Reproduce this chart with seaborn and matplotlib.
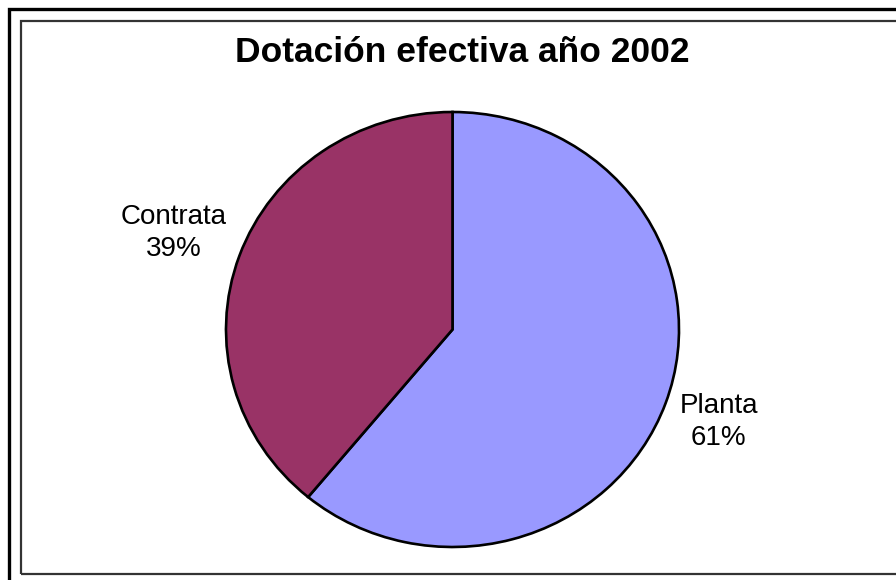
import matplotlib
matplotlib.use("Agg")
import matplotlib.pyplot as plt
from matplotlib.patches import Rectangle
import numpy as np
import seaborn as sns

# ---- data ----
categories = ["Planta", "Contrata"]
values = [61, 39]
colors = ["#9999FF", "#993366"]
title = "Dotación efectiva año 2002"

sns.set_theme(style="white")
plt.rcParams["font.family"] = ["Liberation Sans", "DejaVu Sans"]

W, H = 896, 580
fig = plt.figure(figsize=(W / 100, H / 100), dpi=100)
fig.patch.set_facecolor("white")

def fx(px):
    return px / W

def fy(py):
    return 1 - py / H

# outer border (black) and inner chart-area border (dark grey)
fig.patches.append(Rectangle((fx(9), fy(H + 20)), fx(W + 20) - fx(9), fy(9) - fy(H + 20),
                             transform=fig.transFigure, fill=False, edgecolor="black",
                             linewidth=2.4, zorder=0))
fig.patches.append(Rectangle((fx(21), fy(573.5)), fx(W + 20) - fx(21), fy(21) - fy(573.5),
                             transform=fig.transFigure, fill=False, edgecolor="#333333",
                             linewidth=1.6, zorder=0))

# pie axes: ellipse box
cx, cy, rx, ry = 452.5, 329.5, 226.5, 217.5
ax = fig.add_axes([fx(cx - rx), fy(cy + ry), 2 * rx / W, 2 * ry / H])
wedges, _ = ax.pie(values, colors=colors, startangle=90, counterclock=False,
                   wedgeprops=dict(edgecolor="black", linewidth=1.9),
                   radius=1, frame=False)
ax.set_aspect("auto")
ax.set_xlim(-1, 1)
ax.set_ylim(-1, 1)
ax.axis("off")

dists = [1.25, 1.31]
total = sum(values)
for w, name, v, d in zip(wedges, categories, values, dists):
    mid = np.deg2rad((w.theta1 + w.theta2) / 2)
    ax.text(d * np.cos(mid), d * np.sin(mid), f"{name}\n{round(100 * v / total)}%",
            ha="center", va="center", fontsize=20, linespacing=1.3,
            color="black", clip_on=False)

fig.text(fx(462), fy(53), title, ha="center", va="center",
         fontsize=25.5, fontweight="bold", color="black")

fig.savefig("out.png", dpi=100, facecolor="white")
